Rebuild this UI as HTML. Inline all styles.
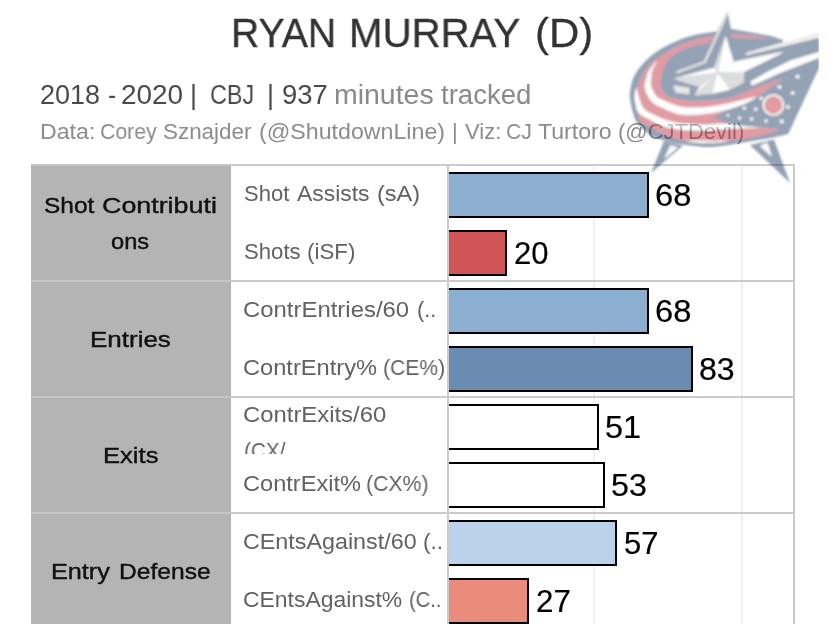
<!DOCTYPE html>
<html><head><meta charset="utf-8">
<style>
html,body{margin:0;padding:0;background:#fff;}
body{width:827px;height:624px;position:relative;overflow:hidden;font-family:"Liberation Sans",sans-serif;}
.t{position:absolute;white-space:nowrap;line-height:1;transform-origin:0 0;will-change:transform;}
.g{-webkit-text-stroke:0.4px #111;}
.n{-webkit-text-stroke:0.2px #000;}
.tt{-webkit-text-stroke:0.3px #333;}
.hdr{position:absolute;left:31px;top:164px;width:200px;height:460px;background:#b4b4b4;}
.hl{position:absolute;left:31px;width:764px;height:2px;background:#cbcbcb;}
.hl i{position:absolute;left:0;top:0;width:200px;height:2px;background:#c6c6c6;}
.vl{position:absolute;width:2px;top:164px;height:460px;background:#cbcbcb;}
.gl{position:absolute;width:2px;top:166px;height:458px;background:#f1f1f1;}
.bar{position:absolute;left:449px;height:42px;border:2px solid #000;border-left:none;}
</style></head><body>
<div class="hdr"></div>
<div class="gl" style="left:593px"></div>
<div class="gl" style="left:741px"></div>
<div class="hl" style="top:164px"><i></i></div>
<div class="hl" style="top:280px"><i></i></div>
<div class="hl" style="top:396px"><i></i></div>
<div class="hl" style="top:512px"><i></i></div>
<div class="vl" style="left:447px"></div>
<div class="vl" style="left:793px"></div>
<div class="bar" style="top:172px;width:198px;background:#8baed1"></div>
<div class="bar" style="top:230px;width:56px;background:#d15557"></div>
<div class="bar" style="top:288px;width:198px;background:#8baed1"></div>
<div class="bar" style="top:346px;width:242px;background:#6a8cb3"></div>
<div class="bar" style="top:404px;width:148px;background:#ffffff"></div>
<div class="bar" style="top:462px;width:154px;background:#ffffff"></div>
<div class="bar" style="top:520px;width:166px;background:#bbd3ea"></div>
<div class="bar" style="top:578px;width:78px;background:#ea8c7b"></div>
<div class="t tt" id="title_0" style="left:231.15px;top:12.95px;font-size:41.3px;color:#333;transform:scaleX(0.9486);">RYAN</div>
<div class="t tt" id="title_1" style="left:348.88px;top:12.95px;font-size:41.3px;color:#333;transform:scaleX(0.9742);">MURRAY</div>
<div class="t tt" id="title_2" style="left:534.57px;top:12.95px;font-size:41.3px;color:#333;transform:scaleX(1.0154);">(D)</div>
<div class="t" id="s1_0" style="left:40.01px;top:81.50px;font-size:27px;color:#4a4a4a;transform:scaleX(0.9923);">2018</div>
<div class="t" id="s1_1" style="left:107.70px;top:81.50px;font-size:27px;color:#4a4a4a;transform:scaleX(0.9000);">-</div>
<div class="t" id="s1_2" style="left:120.77px;top:81.50px;font-size:27px;color:#4a4a4a;transform:scaleX(1.0336);">2020</div>
<div class="t" id="s1_3" style="left:189.85px;top:81.50px;font-size:27px;color:#4a4a4a;transform:scaleX(1.0000);">|</div>
<div class="t" id="s1_4" style="left:210.03px;top:81.50px;font-size:27px;color:#4a4a4a;transform:scaleX(0.8658);">CBJ</div>
<div class="t" id="s1_5" style="left:267.30px;top:81.50px;font-size:27px;color:#4a4a4a;transform:scaleX(1.0000);">|</div>
<div class="t" id="s1_6" style="left:281.78px;top:81.50px;font-size:27px;color:#4a4a4a;transform:scaleX(1.0178);">937</div>
<div class="t" id="s1l_0" style="left:334.35px;top:81.50px;font-size:27px;color:#8a8a8a;transform:scaleX(1.0544);">minutes</div>
<div class="t" id="s1l_1" style="left:441.40px;top:81.50px;font-size:27px;color:#8a8a8a;transform:scaleX(1.0214);">tracked</div>
<div class="t" id="s2_0" style="left:39.75px;top:121.30px;font-size:22px;color:#8c8c8c;transform:scaleX(1.0521);">Data:</div>
<div class="t" id="s2_1" style="left:100.23px;top:121.30px;font-size:22px;color:#8c8c8c;transform:scaleX(0.9656);">Corey</div>
<div class="t" id="s2_2" style="left:163.08px;top:121.30px;font-size:22px;color:#8c8c8c;transform:scaleX(1.0187);">Sznajder</div>
<div class="t" id="s2_3" style="left:259.15px;top:121.30px;font-size:22px;color:#8c8c8c;transform:scaleX(1.0545);">(@ShutdownLine)</div>
<div class="t" id="s2_4" style="left:452.30px;top:121.30px;font-size:22px;color:#8c8c8c;transform:scaleX(1.0000);">|</div>
<div class="t" id="s2_5" style="left:464.60px;top:121.30px;font-size:22px;color:#8c8c8c;transform:scaleX(0.9896);">Viz:</div>
<div class="t" id="s2_6" style="left:506.24px;top:121.30px;font-size:22px;color:#8c8c8c;transform:scaleX(0.9563);">CJ</div>
<div class="t" id="s2_7" style="left:537.70px;top:121.30px;font-size:22px;color:#8c8c8c;transform:scaleX(1.0507);">Turtoro</div>
<div class="t" id="s2_8" style="left:618.00px;top:121.30px;font-size:22px;color:#8c8c8c;transform:scaleX(0.9993);">(@CJTDevil)</div>
<div class="t g" id="g1_0" style="left:43.60px;top:195.05px;font-size:22.3px;color:#111;transform:scaleX(1.0969);">Shot</div>
<div class="t g" id="g1_1" style="left:102.40px;top:195.05px;font-size:22.3px;color:#111;transform:scaleX(1.2036);">Contributi</div>
<div class="t g" id="g1b_0" style="left:111.30px;top:230.55px;font-size:22.3px;color:#111;transform:scaleX(1.0614);">ons</div>
<div class="t g" id="g2_0" style="left:89.74px;top:329.05px;font-size:22.3px;color:#111;transform:scaleX(1.1649);">Entries</div>
<div class="t g" id="g3_0" style="left:102.95px;top:445.25px;font-size:22.3px;color:#111;transform:scaleX(1.1469);">Exits</div>
<div class="t g" id="g4_0" style="left:50.97px;top:561.05px;font-size:22.3px;color:#111;transform:scaleX(1.1312);">Entry</div>
<div class="t g" id="g4_1" style="left:119.00px;top:561.05px;font-size:22.3px;color:#111;transform:scaleX(1.1048);">Defense</div>
<div class="t" id="l1_0" style="left:243.80px;top:183.10px;font-size:21.8px;color:#626262;transform:scaleX(1.0093);">Shot</div>
<div class="t" id="l1_1" style="left:297.00px;top:183.10px;font-size:21.8px;color:#626262;transform:scaleX(1.0502);">Assists</div>
<div class="t" id="l1_2" style="left:376.52px;top:183.10px;font-size:21.8px;color:#626262;transform:scaleX(1.0797);">(sA)</div>
<div class="t" id="l2_0" style="left:243.80px;top:241.40px;font-size:21.8px;color:#626262;transform:scaleX(1.0154);">Shots</div>
<div class="t" id="l2_1" style="left:307.48px;top:241.40px;font-size:21.8px;color:#626262;transform:scaleX(1.0233);">(iSF)</div>
<div class="t" id="l3_0" style="left:242.70px;top:299.30px;font-size:21.8px;color:#626262;transform:scaleX(1.0970);">ContrEntries/60</div>
<div class="t" id="l3_1" style="left:416.50px;top:299.30px;font-size:21.8px;color:#626262;transform:scaleX(0.9992);">(..</div>
<div class="t" id="l4_0" style="left:242.72px;top:357.30px;font-size:21.8px;color:#626262;transform:scaleX(1.0845);">ContrEntry%</div>
<div class="t" id="l4_1" style="left:382.73px;top:357.30px;font-size:21.8px;color:#626262;transform:scaleX(0.9674);">(CE%)</div>
<div class="t" id="l5_0" style="left:242.91px;top:403.60px;font-size:21.8px;color:#626262;transform:scaleX(1.0947);">ContrExits/60</div>
<div style="position:absolute;left:232px;top:398px;width:215px;height:55.6px;overflow:hidden;"><div style="position:absolute;left:-232px;top:-398px;"><div class="t" id="l5b_0" style="left:244.05px;top:439.60px;font-size:21.8px;color:#626262;transform:scaleX(0.9509);">(CX/</div></div></div>
<div class="t" id="l6_0" style="left:242.72px;top:473.30px;font-size:21.8px;color:#626262;transform:scaleX(1.0824);">ContrExit%</div>
<div class="t" id="l6_1" style="left:366.03px;top:473.30px;font-size:21.8px;color:#626262;transform:scaleX(0.9739);">(CX%)</div>
<div class="t" id="l7_0" style="left:242.73px;top:531.30px;font-size:21.8px;color:#626262;transform:scaleX(1.0692);">CEntsAgainst/60</div>
<div class="t" id="l7_1" style="left:423.07px;top:531.30px;font-size:21.8px;color:#626262;transform:scaleX(1.0338);">(..</div>
<div class="t" id="l8_0" style="left:242.75px;top:589.00px;font-size:21.8px;color:#626262;transform:scaleX(1.0509);">CEntsAgainst%</div>
<div class="t" id="l8_1" style="left:408.58px;top:589.00px;font-size:21.8px;color:#626262;transform:scaleX(0.9227);">(C..</div>
<div class="t n" id="n0" style="left:655.15px;top:180.00px;font-size:31px;color:#000;transform:scaleX(1.0546);">68</div>
<div class="t n" id="n1" style="left:513.70px;top:238.00px;font-size:31px;color:#000;transform:scaleX(0.9958);">20</div>
<div class="t n" id="n2" style="left:655.15px;top:296.00px;font-size:31px;color:#000;transform:scaleX(1.0546);">68</div>
<div class="t n" id="n3" style="left:699.16px;top:354.00px;font-size:31px;color:#000;transform:scaleX(1.0360);">83</div>
<div class="t n" id="n4" style="left:605.25px;top:412.00px;font-size:31px;color:#000;transform:scaleX(1.0453);">51</div>
<div class="t n" id="n5" style="left:611.26px;top:470.00px;font-size:31px;color:#000;transform:scaleX(1.0391);">53</div>
<div class="t n" id="n6" style="left:623.50px;top:528.00px;font-size:31px;color:#000;transform:scaleX(0.9987);">57</div>
<div class="t n" id="n7" style="left:535.59px;top:586.00px;font-size:31px;color:#000;transform:scaleX(1.0111);">27</div>
<svg id="logo" width="819" height="624" viewBox="0 0 819 624" style="position:absolute;left:0;top:0;overflow:hidden">
<defs><filter id="bl" x="600" y="0" width="230" height="200" filterUnits="userSpaceOnUse"><feGaussianBlur stdDeviation="1.25"/></filter></defs>
<g filter="url(#bl)" opacity="0.46">
<path fill="#16355e" d="M727.4,11.5 L717,31.6 C713.7,32.1 703.4,33.2 697.0,34.6 C690.6,36.0 684.8,37.7 678.6,40.2 C672.4,42.7 665.6,46.1 660.0,49.6 C654.4,53.1 649.3,57.0 645.0,61.5 C640.7,66.0 636.5,71.4 634.0,76.5 C631.5,81.6 630.6,88.1 630.0,92.0 C629.4,95.9 630.1,97.7 630.3,100.0 C630.5,102.3 630.8,103.8 631.3,106.0 C631.8,108.2 632.2,110.5 633.0,113.0 C633.8,115.5 634.4,118.5 636.0,121.0 C637.6,123.5 639.8,125.8 642.5,128.3 C645.2,130.8 648.0,133.8 652.2,136.0 C656.5,138.2 661.7,139.9 668.0,141.5 C674.3,143.1 682.7,144.6 690.0,145.5 C697.3,146.4 704.2,147.3 712.0,147.0 C719.8,146.7 727.3,145.0 737.0,143.5 C746.7,142.0 761.5,139.6 770.0,138.0 C778.5,136.4 785.0,134.7 788.0,134.0 L819,66 L819,33.5 L783,43.5 L783,40 C781.2,39.8 776.3,37.5 772.0,36.3 C767.7,35.1 764.2,34.6 757.4,33.4 C750.6,32.2 735.4,29.7 731.0,29.0 Z"/>
<path fill="#16355e" d="M664.0,141.0 L683.0,145.5 L651.0,173.0 Z"/>
<path fill="#16355e" d="M750.0,145.0 L774.0,139.5 L790.0,183.0 Z"/>
<path fill="#ffffff" d="M670.5,145.8 L677.5,147.2 L664.5,158.5 Z"/>
<path fill="#ffffff" d="M760.3,146.0 L767.0,142.8 L771.8,156.5 Z"/>
<path fill="#bf2838" d="M665.0,53.4 C662.4,55.4 653.0,61.6 649.2,65.5 C645.4,69.4 643.8,73.3 642.0,76.8 C640.2,80.3 638.8,83.3 638.2,86.5 C637.6,89.7 638.0,93.5 638.4,96.2 C638.8,99.0 639.6,100.9 640.5,103.0 C641.4,105.1 642.5,107.3 644.0,109.0 C645.5,110.7 647.5,111.8 649.7,113.0 C651.9,114.2 654.6,115.4 657.0,116.5 C659.4,117.6 660.6,118.4 664.2,119.5 C667.8,120.6 673.8,122.4 678.7,123.2 C683.6,124.0 688.8,124.3 693.7,124.5 C698.6,124.7 702.0,124.8 708.0,124.6 C714.0,124.3 726.3,123.3 730.0,123.0 L730.0,112.0 C726.3,112.2 714.0,112.8 708.0,113.3 C702.0,113.8 698.6,114.6 693.7,114.7 C688.8,114.8 683.6,115.0 678.7,114.0 C673.8,113.0 668.2,110.1 664.2,108.4 C660.2,106.7 657.7,106.0 655.0,104.0 C652.3,102.0 649.9,99.1 648.2,96.2 C646.5,93.3 645.2,89.7 645.0,86.5 C644.8,83.3 646.2,79.4 646.9,76.8 C647.6,74.2 647.9,73.0 649.0,71.0 C650.1,69.0 650.8,67.9 653.5,65.0 C656.2,62.1 663.1,55.3 665.0,53.4 Z"/>
<path fill="#16355e" d="M712.4,118.2 L783.0,79.0 L819.0,60.0 L819.0,68.0 L788.0,134.0 L779.4,129.3 L757.0,126.6 L733.0,124.6 Z"/>
<path fill="#bf2838" d="M714.5,35.8 C709.7,37.0 693.8,40.2 685.5,43.1 C677.2,46.0 669.8,50.6 665.0,53.4 C660.2,56.2 659.1,57.4 657.0,60.0 C654.9,62.6 653.5,66.2 652.5,69.0 C651.5,71.8 651.2,73.9 651.0,76.8 C650.8,79.7 650.1,83.3 651.0,86.5 C651.9,89.7 654.3,94.0 656.2,96.2 C658.1,98.5 658.5,98.3 662.3,100.0 C666.1,101.7 674.0,105.2 679.2,106.4 C684.4,107.7 688.9,107.4 693.7,107.5 C698.5,107.6 703.0,107.5 708.0,107.0 C713.0,106.5 717.8,105.8 724.0,104.6 C730.2,103.3 739.5,100.9 745.0,99.5 C750.5,98.1 750.7,99.5 757.0,96.0 C763.3,92.5 778.7,81.3 783.0,78.4 L783.0,78.2 C777.5,80.2 758.0,87.5 750.0,90.5 C742.0,93.5 739.3,95.0 735.0,96.5 C730.7,98.0 727.7,98.6 724.0,99.2 C720.3,99.8 717.7,100.0 713.0,100.3 C708.3,100.6 701.0,101.3 695.7,101.2 C690.4,101.1 686.0,100.7 681.2,99.8 C676.4,98.9 670.2,98.3 666.7,96.0 C663.2,93.7 661.2,89.0 660.3,86.0 C659.3,83.0 660.6,80.5 661.0,78.0 C661.4,75.5 661.7,73.4 662.5,71.0 C663.3,68.6 664.4,66.1 666.0,63.5 C667.6,60.9 668.3,58.2 672.0,55.5 C675.7,52.8 681.3,49.7 688.0,47.3 C694.7,44.9 708.0,42.3 712.0,41.3 Z"/>
<path fill="#ffffff" d="M656.0,61.0 C655.6,61.7 654.7,63.3 653.5,65.0 C652.3,66.7 650.1,69.0 649.0,71.0 C647.9,73.0 647.6,74.2 646.9,76.8 C646.2,79.4 644.8,83.3 645.0,86.5 C645.2,89.7 646.5,93.3 648.2,96.2 C649.9,99.1 652.3,102.0 655.0,104.0 C657.7,106.0 660.2,106.7 664.2,108.4 C668.2,110.1 673.8,113.0 678.7,114.0 C683.6,115.0 688.8,114.8 693.7,114.7 C698.6,114.6 703.0,114.0 708.0,113.3 C713.0,112.6 717.8,112.0 724.0,110.4 C730.2,108.8 739.5,105.8 745.0,103.5 C750.5,101.2 755.0,97.7 757.0,96.5 L757.0,96.5 C755.0,97.0 750.5,98.2 745.0,99.5 C739.5,100.8 730.2,103.3 724.0,104.6 C717.8,105.8 713.0,106.5 708.0,107.0 C703.0,107.5 698.5,107.6 693.7,107.5 C688.9,107.4 684.4,107.7 679.2,106.4 C674.0,105.2 666.1,101.7 662.3,100.0 C658.5,98.3 658.1,98.5 656.2,96.2 C654.3,94.0 651.9,89.7 651.0,86.5 C650.1,83.3 650.8,79.7 651.0,76.8 C651.2,73.9 651.8,71.1 652.5,69.0 C653.2,66.9 654.9,65.3 655.5,64.0 C656.1,62.7 655.9,61.5 656.0,61.0 Z"/>
<path fill="#ffffff" d="M636.4,87.0 C636.1,88.5 634.9,93.2 634.8,96.2 C634.7,99.2 635.6,102.5 636.0,104.8 C636.4,107.1 636.4,108.3 637.2,110.0 C638.0,111.7 638.9,113.2 641.0,114.8 C643.1,116.4 645.8,117.5 649.7,119.5 C653.6,121.5 659.4,124.9 664.2,126.6 C669.0,128.2 673.8,128.8 678.7,129.4 C683.6,130.0 688.2,130.3 693.7,130.4 C699.2,130.5 706.0,130.3 712.0,130.0 C718.0,129.7 721.8,129.2 730.0,128.8 C738.2,128.4 755.8,128.0 761.0,127.8 L761.0,127.4 C758.3,127.2 751.0,126.8 745.0,126.2 C739.0,125.6 731.2,124.2 725.0,124.0 C718.8,123.8 713.2,124.6 708.0,124.7 C702.8,124.8 698.6,124.8 693.7,124.5 C688.8,124.2 683.6,124.0 678.7,123.2 C673.8,122.4 667.8,120.6 664.2,119.5 C660.6,118.4 659.4,117.6 657.0,116.5 C654.6,115.4 651.9,114.2 649.7,113.0 C647.5,111.8 645.5,110.7 644.0,109.0 C642.5,107.3 641.4,105.1 640.5,103.0 C639.6,100.9 639.1,98.9 638.4,96.2 C637.7,93.5 636.7,88.5 636.4,87.0 Z"/>
<path fill="#bf2838" d="M638.0,112.0 C638.3,113.2 638.8,117.4 639.7,119.3 C640.6,121.2 641.8,122.3 643.5,123.5 C645.2,124.7 647.5,125.0 649.7,126.2 C652.0,127.4 654.6,129.2 657.0,130.5 C659.4,131.8 660.6,132.9 664.2,134.3 C667.8,135.7 673.8,137.9 678.7,139.0 C683.6,140.1 688.2,140.4 693.7,140.8 C699.2,141.2 704.8,141.4 712.0,141.2 C719.2,141.0 729.0,140.4 737.0,139.4 C745.0,138.4 752.9,136.9 760.0,135.3 C767.1,133.7 776.2,130.7 779.4,129.8 L779.4,129.8 C776.3,129.5 769.2,128.0 761.0,127.8 C752.8,127.6 738.2,128.4 730.0,128.8 C721.8,129.2 718.0,129.7 712.0,130.0 C706.0,130.3 699.2,130.5 693.7,130.4 C688.2,130.3 683.6,130.0 678.7,129.4 C673.8,128.8 669.0,128.2 664.2,126.6 C659.4,124.9 653.6,121.5 649.7,119.5 C645.8,117.5 643.0,116.0 641.0,114.8 C639.0,113.5 638.5,112.5 638.0,112.0 Z"/>
<path fill="#ffffff" d="M684.0,140.5 C685.6,140.8 689.0,141.8 693.7,142.2 C698.4,142.6 706.3,142.9 712.0,142.7 C717.7,142.5 725.3,141.4 728.0,141.2 L728.0,140.4 C725.3,140.5 717.7,141.1 712.0,141.2 C706.3,141.3 698.4,140.9 693.7,140.8 C689.0,140.7 685.6,140.6 684.0,140.5 Z"/>
<path fill="#bf2838" d="M732.0,34.2 L750.0,35.4 L767.0,37.6 L767.0,38.6 L750.0,37.8 L732.0,37.4 Z"/>
<path fill="#d9dbde" d="M746.0,53.0 L819.0,32.6 L819.0,37.6 L746.5,55.0 Z"/>
<path fill="#ffffff" d="M733.5,62.0 L783.3,52.0 L744.0,71.5 L735.0,74.5 Z"/>
<path fill="#ffffff" d="M751.8,85.5 L779.9,72.7 L819.0,57.5 L819.0,52.3 L791.0,60.5 L768.7,71.6 L751.0,81.5 Z"/>
<path fill="none" stroke="#c8cacc" stroke-width="1.8" d="M726.8,13 L723.2,22.1 L704.8,62 L676.5,72.3"/>
<path fill="#c8cacc" d="M673.4,85.6 L689.1,88.0 L689.1,94.0 L675.8,92.6 Z"/>
<path fill="#b4b6b8" d="M725.6,36.0 L714.0,68.0 L717.7,72.5 Z"/>
<path fill="#ffffff" d="M725.6,36.0 L717.7,72.5 L733.7,62.5 Z"/>
<path fill="#ffffff" d="M714.0,68.0 L673.4,78.7 L717.7,72.5 Z"/>
<path fill="#b4b6b8" d="M673.4,78.7 L699.8,87.1 L717.7,72.5 Z"/>
<path fill="#ffffff" d="M699.8,87.1 L694.7,95.5 L717.7,72.5 Z"/>
<path fill="#b4b6b8" d="M694.7,95.5 L712.0,93.5 L717.7,72.5 Z"/>
<path fill="#ffffff" d="M712.0,93.5 L730.0,89.6 L717.7,72.5 Z"/>
<path fill="#b4b6b8" d="M730.0,89.6 L743.6,82.6 L717.7,72.5 Z"/>
<path fill="#b4b6b8" d="M743.6,82.6 L744.0,71.5 L717.7,72.5 Z"/>
<path fill="#ffffff" d="M744.0,71.5 L783.3,52.0 L733.7,62.5 L717.7,72.5 Z"/>
<circle cx="773.4" cy="105" r="10.6" fill="#ffffff"/>
<circle cx="773.4" cy="105" r="9.2" fill="#bf2838"/>
<circle cx="797.6" cy="76.7" r="1.6" fill="#ffffff"/>
<circle cx="779.4" cy="86.9" r="1.6" fill="#ffffff"/>
<circle cx="792.7" cy="93.0" r="1.6" fill="#ffffff"/>
<circle cx="761.3" cy="98.4" r="1.4" fill="#ffffff"/>
<circle cx="787.9" cy="106.9" r="1.6" fill="#ffffff"/>
<circle cx="744.3" cy="108.1" r="1.4" fill="#ffffff"/>
<circle cx="755.8" cy="109.3" r="1.4" fill="#ffffff"/>
<circle cx="728.0" cy="115.3" r="1.1" fill="#ffffff"/>
<circle cx="739.5" cy="117.8" r="1.4" fill="#ffffff"/>
<circle cx="751.6" cy="119.0" r="1.4" fill="#ffffff"/>
<circle cx="766.1" cy="120.8" r="1.4" fill="#ffffff"/>
<circle cx="781.8" cy="121.4" r="1.6" fill="#ffffff"/>
</g>
</svg>
</body></html>
